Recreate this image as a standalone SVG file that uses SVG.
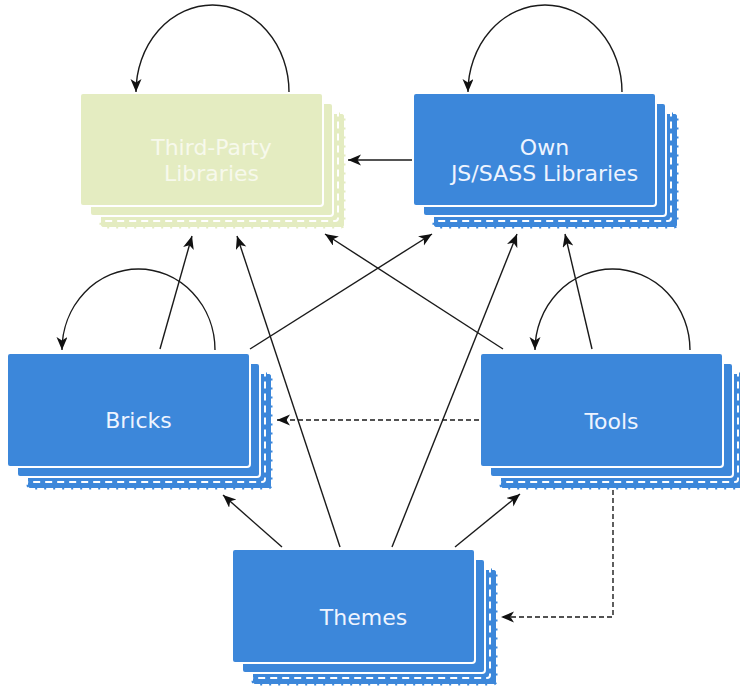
<svg xmlns="http://www.w3.org/2000/svg" width="740" height="688" viewBox="0 0 740 688">
<defs>
<marker id="arr" markerUnits="userSpaceOnUse" markerWidth="15" markerHeight="12" refX="13" refY="5.5" orient="auto">
<path d="M0,0 L13,5.5 L0,11 L3.5,5.5 z" fill="#111"/>
</marker>
<style>
.blue .f{fill:#3c87da}
.green .f{fill:#e4ecc1}
.blue .t{stroke:#3c87da}
.green .t{stroke:#e4ecc1}
.t{fill:none;stroke-width:3;stroke-dasharray:2 7}
.w{stroke:#fff;stroke-width:2}
.d{fill:none;stroke:#fff;stroke-width:2;stroke-dasharray:7 5}
.lbl{font-family:"DejaVu Sans","Liberation Sans",sans-serif;font-size:22px;text-anchor:middle}
.blue .lbl{fill:#eef4ff}
.green .lbl{fill:#f7f9ec}
.c{fill:none;stroke:#1a1a1a;stroke-width:1.4}
.dash{stroke-dasharray:5 3}
</style>
</defs>
<rect width="740" height="688" fill="#fff"/>

<g id="connectors">
<path class="c" d="M412,160 L348,160" marker-end="url(#arr)"/>
<path class="c" d="M289,92 A76.5,87 0 0 0 136,92" marker-end="url(#arr)"/>
<path class="c" d="M622,92 A77,87 0 0 0 468,92" marker-end="url(#arr)"/>
<path class="c" d="M215,350 A76.5,81 0 0 0 62,350" marker-end="url(#arr)"/>
<path class="c" d="M690,350 A77.5,81 0 0 0 535,350" marker-end="url(#arr)"/>
<path class="c" d="M160,349 L192,236" marker-end="url(#arr)"/>
<path class="c" d="M340,547 L237,236" marker-end="url(#arr)"/>
<path class="c" d="M503,349 L325,234" marker-end="url(#arr)"/>
<path class="c" d="M250,349 L432,234" marker-end="url(#arr)"/>
<path class="c" d="M392,547 L517,234" marker-end="url(#arr)"/>
<path class="c" d="M592,349 L565,234" marker-end="url(#arr)"/>
<path class="c dash" d="M479,420 L277,420" marker-end="url(#arr)"/>
<path class="c" d="M282,547 L223,495" marker-end="url(#arr)"/>
<path class="c" d="M455,547 L520,494" marker-end="url(#arr)"/>
<path class="c dash" d="M613,490 L613,617 L501,617" marker-end="url(#arr)"/>
</g>

<g id="third-party" class="green" transform="translate(80,93)">
<rect class="f t" x="21" y="21" width="243" height="113" rx="3"/>
<rect class="f" x="21" y="21" width="243" height="113" rx="3"/>
<rect class="d" x="15" y="15" width="243" height="113" rx="3"/>
<rect class="f w" x="10" y="10" width="243" height="113" rx="3"/>
<rect class="f w" x="0" y="0" width="243" height="113" rx="3"/>
<text class="lbl" x="131.5" y="62">Third-Party</text>
<text class="lbl" x="131.5" y="88">Libraries</text>
</g>

<g id="own" class="blue" transform="translate(413,93)">
<rect class="f t" x="21" y="21" width="243" height="113" rx="3"/>
<rect class="f" x="21" y="21" width="243" height="113" rx="3"/>
<rect class="d" x="15" y="15" width="243" height="113" rx="3"/>
<rect class="f w" x="10" y="10" width="243" height="113" rx="3"/>
<rect class="f w" x="0" y="0" width="243" height="113" rx="3"/>
<text class="lbl" x="131.5" y="62">Own</text>
<text class="lbl" x="131.5" y="88">JS/SASS Libraries</text>
</g>

<g id="bricks" class="blue" transform="translate(7,353)">
<rect class="f t" x="21" y="21" width="243" height="114" rx="3"/>
<rect class="f" x="21" y="21" width="243" height="114" rx="3"/>
<rect class="d" x="15" y="15" width="243" height="114" rx="3"/>
<rect class="f w" x="10" y="10" width="243" height="114" rx="3"/>
<rect class="f w" x="0" y="0" width="243" height="114" rx="3"/>
<text class="lbl" x="131.5" y="75">Bricks</text>
</g>

<g id="tools" class="blue" transform="translate(480,353)">
<rect class="f t" x="21" y="21" width="243" height="114" rx="3"/>
<rect class="f" x="21" y="21" width="243" height="114" rx="3"/>
<rect class="d" x="15" y="15" width="243" height="114" rx="3"/>
<rect class="f w" x="10" y="10" width="243" height="114" rx="3"/>
<rect class="f w" x="0" y="0" width="243" height="114" rx="3"/>
<text class="lbl" x="131.5" y="76">Tools</text>
</g>

<g id="themes" class="blue" transform="translate(232,549)">
<rect class="f t" x="21" y="21" width="243" height="114" rx="3"/>
<rect class="f" x="21" y="21" width="243" height="114" rx="3"/>
<rect class="d" x="15" y="15" width="243" height="114" rx="3"/>
<rect class="f w" x="10" y="10" width="243" height="114" rx="3"/>
<rect class="f w" x="0" y="0" width="243" height="114" rx="3"/>
<text class="lbl" x="131.5" y="76">Themes</text>
</g>
</svg>
